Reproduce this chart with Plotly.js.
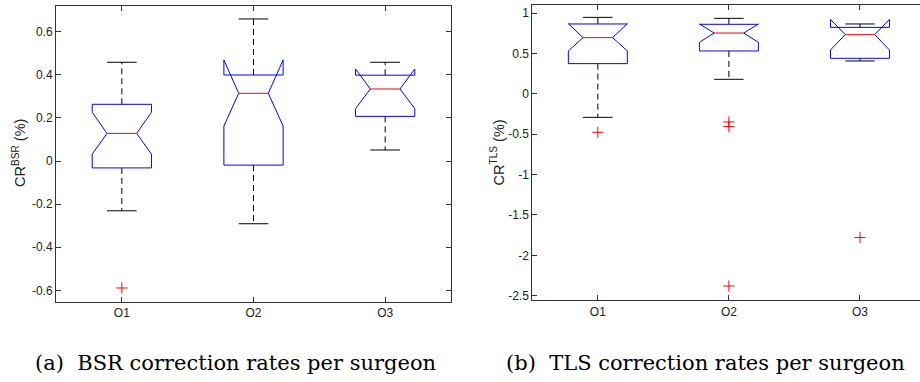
<!DOCTYPE html>
<html>
<head>
<meta charset="utf-8">
<script src="https://cdn.plot.ly/plotly-3.0.1.min.js"></script>
<style>
  html, body { margin: 0; padding: 0; overflow: hidden; background: #fff; }
  #chart { width: 930px; height: 382px; }
</style>
</head>
<body>
<div id="chart"></div>
<script>
// ---- data ----
const categories = ['O1', 'O2', 'O3'];

const bsrLowerWhisker = [-0.231, -0.291, 0.051];
const bsrQ1           = [-0.032, -0.019, 0.207];
const bsrNotchLow     = [0.032, 0.162, 0.243];
const bsrMedian       = [0.128, 0.314, 0.334];
const bsrNotchHigh    = [0.226, 0.469, 0.427];
const bsrQ3           = [0.263, 0.399, 0.398];
const bsrUpperWhisker = [0.458, 0.659, 0.458];
const bsrOutlierGroup = ['O1'];
const bsrOutlierValue = [-0.589];

const tlsLowerWhisker = [-0.292, 0.179, 0.406];
const tlsQ1           = [0.373, 0.530, 0.439];
const tlsNotchLow     = [0.530, 0.637, 0.542];
const tlsMedian       = [0.695, 0.752, 0.732];
const tlsNotchHigh    = [0.868, 0.864, 0.921];
const tlsQ3           = [0.864, 0.860, 0.822];
const tlsUpperWhisker = [0.946, 0.934, 0.864];
const tlsOutlierGroup = ['O1', 'O2', 'O2', 'O2', 'O3'];
const tlsOutlierValue = [-0.477, -0.349, -0.407, -2.38, -1.78];

const bsrTickVals = [-0.6, -0.4, -0.2, 0, 0.2, 0.4, 0.6];
const bsrTickText = ['-0.6', '-0.4', '-0.2', '0', '0.2', '0.4', '0.6'];
const tlsTickVals = [-2.5, -2, -1.5, -1, -0.5, 0, 0.5, 1];
const tlsTickText = ['-2.5', '-2', '-1.5', '-1', '-0.5', '0', '0.5', '1'];

const captionA = '(a)  BSR correction rates per surgeon';
const captionB = '(b)  TLS correction rates per surgeon';

// ---- geometry / style constants ----
const HALF_BOX = 0.225;
const HALF_NOTCH = 0.1125;
const HALF_CAP = 0.1125;
const W = 930, H = 382;

function boxTraces(d, xa, ya) {
  const bx = [], by = [], mx = [], my = [], wx = [], wy = [], cx = [], cy = [];
  categories.forEach((c, i) => {
    const x = i + 1;
    bx.push(x - HALF_BOX, x - HALF_BOX, x - HALF_NOTCH, x - HALF_BOX, x - HALF_BOX,
            x + HALF_BOX, x + HALF_BOX, x + HALF_NOTCH, x + HALF_BOX, x + HALF_BOX,
            x - HALF_BOX, null);
    by.push(d.q1[i], d.nlo[i], d.med[i], d.nhi[i], d.q3[i],
            d.q3[i], d.nhi[i], d.med[i], d.nlo[i], d.q1[i],
            d.q1[i], null);
    mx.push(x - HALF_NOTCH, x + HALF_NOTCH, null);
    my.push(d.med[i], d.med[i], null);
    if (d.up[i] > d.q3[i]) { wx.push(x, x, null); wy.push(d.q3[i], d.up[i], null); }
    if (d.lo[i] < d.q1[i]) { wx.push(x, x, null); wy.push(d.q1[i], d.lo[i], null); }
    cx.push(x - HALF_CAP, x + HALF_CAP, null, x - HALF_CAP, x + HALF_CAP, null);
    cy.push(d.up[i], d.up[i], null, d.lo[i], d.lo[i], null);
  });
  const ox = d.og.map(g => categories.indexOf(g) + 1);
  const common = { xaxis: xa, yaxis: ya, hoverinfo: 'skip', showlegend: false };
  return [
    Object.assign({ type: 'scatter', mode: 'lines', x: wx, y: wy,
      line: { color: '#000', width: 1, dash: '6px,4px' } }, common),
    Object.assign({ type: 'scatter', mode: 'lines', x: cx, y: cy,
      line: { color: '#000', width: 1 } }, common),
    Object.assign({ type: 'scatter', mode: 'lines', x: bx, y: by,
      line: { color: '#0000ff', width: 1 } }, common),
    Object.assign({ type: 'scatter', mode: 'lines', x: mx, y: my,
      line: { color: '#ff0000', width: 1 } }, common),
    Object.assign({ type: 'scatter', mode: 'markers', x: ox, y: d.ov,
      marker: { symbol: 'cross-thin', size: 8, line: { color: '#ff0000', width: 1 } } }, common)
  ];
}

const traces = [].concat(
  boxTraces({ lo: bsrLowerWhisker, q1: bsrQ1, nlo: bsrNotchLow, med: bsrMedian,
              nhi: bsrNotchHigh, q3: bsrQ3, up: bsrUpperWhisker,
              og: bsrOutlierGroup, ov: bsrOutlierValue }, 'x', 'y'),
  boxTraces({ lo: tlsLowerWhisker, q1: tlsQ1, nlo: tlsNotchLow, med: tlsMedian,
              nhi: tlsNotchHigh, q3: tlsQ3, up: tlsUpperWhisker,
              og: tlsOutlierGroup, ov: tlsOutlierValue }, 'x2', 'y2')
);

const tickFont = { family: 'Liberation Sans, Arial, sans-serif', size: 12, color: '#222' };
const axisBase = {
  showline: true, linecolor: '#333', linewidth: 1, mirror: 'ticks',
  ticks: 'inside', ticklen: 5, tickcolor: '#333', tickwidth: 1,
  showgrid: false, zeroline: false, tickfont: tickFont, fixedrange: true
};

const labelFont = { family: 'Liberation Sans, Arial, sans-serif', size: 14.5, color: '#222' };
const captionFont = { family: 'DejaVu Serif, serif', size: 21, color: '#000' };

const layout = {
  width: W, height: H,
  margin: { l: 0, r: 0, t: 0, b: 0 },
  paper_bgcolor: '#fff', plot_bgcolor: '#fff',
  showlegend: false,
  xaxis: Object.assign({}, axisBase, {
    domain: [56 / W, 451 / W], range: [0.5, 3.5], anchor: 'y',
    tickvals: [1, 2, 3], ticktext: categories
  }),
  yaxis: Object.assign({}, axisBase, {
    domain: [80 / H, 376 / H], range: [-0.654, 0.719], anchor: 'x',
    tickvals: bsrTickVals, ticktext: bsrTickText
  }),
  xaxis2: Object.assign({}, axisBase, {
    domain: [532.3 / W, 925.5 / W], range: [0.5, 3.5], anchor: 'y2',
    tickvals: [1, 2, 3], ticktext: categories
  }),
  yaxis2: Object.assign({}, axisBase, {
    domain: [81.7 / H, 377 / H], range: [-2.557, 1.099], anchor: 'x2',
    tickvals: tlsTickVals, ticktext: tlsTickText
  }),
  annotations: [
    { xref: 'paper', yref: 'paper', x: 19 / W, y: (H - 153) / H, textangle: -90,
      text: 'CR<sup>BSR</sup> (%)', showarrow: false, xanchor: 'center', yanchor: 'middle',
      font: labelFont },
    { xref: 'paper', yref: 'paper', x: 497 / W, y: (H - 152.5) / H, textangle: -90,
      text: 'CR<sup>TLS</sup> (%)', showarrow: false, xanchor: 'center', yanchor: 'middle',
      font: labelFont },
    { xref: 'paper', yref: 'paper', x: 33 / W, y: (H - 363) / H,
      text: captionA, showarrow: false, xanchor: 'left', yanchor: 'middle',
      font: captionFont },
    { xref: 'paper', yref: 'paper', x: 504 / W, y: (H - 363) / H,
      text: captionB, showarrow: false, xanchor: 'left', yanchor: 'middle',
      font: captionFont }
  ]
};

Plotly.newPlot('chart', traces, layout, { staticPlot: true, displayModeBar: false });
</script>
</body>
</html>
